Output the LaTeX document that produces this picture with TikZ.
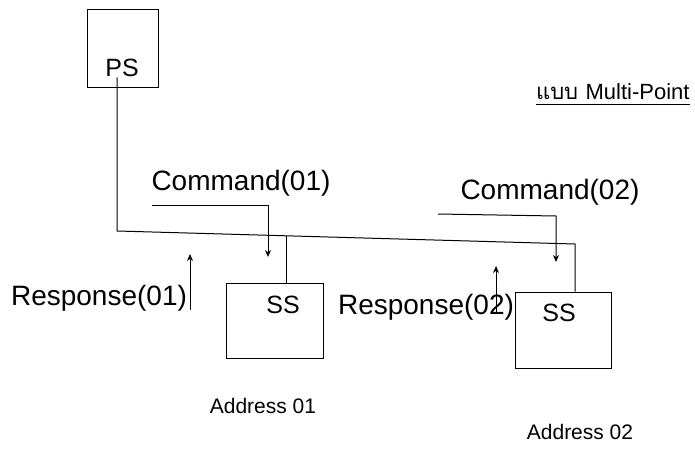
\documentclass[tikz,border=0pt]{standalone}
\usepackage{fontspec}
\setmainfont{Liberation Sans}
\newfontfamily\thaifont[Script=Thai]{Loma}
\usepackage{tikz}
\usetikzlibrary{arrows.meta}

\begin{document}
\begin{tikzpicture}
  [x=1pt,y=-1pt,line width=1pt,
   station/.style={draw,rectangle,inner sep=0pt},
   lbl/.style={inner sep=0pt,font=\fontsize{28}{30}\selectfont},
   small/.style={inner sep=0pt,font=\fontsize{21}{24}\selectfont},
   sig/.style={-{Stealth[length=7pt,width=6pt]}}]
  \useasboundingbox (0,0) rectangle (695,449);

  % stations
  \node[station,minimum width=71pt,minimum height=78pt] (ps) at (122.5,49) {};
  \node[station,minimum width=97pt,minimum height=75pt] (ss1) at (274.5,320.5) {};
  \node[station,minimum width=96pt,minimum height=76pt] (ss2) at (563,330) {};
  \node[lbl,font=\fontsize{25}{28}\selectfont] (pstext) at (122,68) {PS};
  \node[lbl,font=\fontsize{25}{28}\selectfont] (ss1text) at (283,305) {SS};
  \node[lbl,font=\fontsize{25}{28}\selectfont] (ss2text) at (559,313) {SS};

  % labels
  \node[lbl] (cmd1) at (241,183) {Command(01)};
  \node[lbl] (cmd2) at (550,192) {Command(02)};
  \node[lbl] (resp1) at (99,298) {Response(01)};
  \node[lbl] (resp2) at (426,307) {Response(02)};
  \node[small] (addr1) at (263,406) {Address 01};
  \node[small] (addr2) at (580,432) {Address 02};
  \node[small,font=\fontsize{22}{24}\selectfont,anchor=east] (mode) at (690,92) {\thaifont แบบ\ \rmfamily Multi-Point};
  \draw[line width=.8pt] ([yshift=-4pt]mode.south west) -- ([yshift=-4pt]mode.south east);

  % bus
  \coordinate (busL) at (117,231);
  \coordinate (busR) at (575,244);
  \coordinate (tap1) at (286,236);
  \draw (pstext.south -| busL) -- (busL) -- (busR) -- (busR |- ss2.north);
  \draw (tap1) -- (tap1 |- ss1.north);

  % command and response signals
  \coordinate (c1a) at (152,205);
  \coordinate (c1b) at (268,205);
  \coordinate (c1c) at (268,257);
  \coordinate (c2a) at (438,214);
  \coordinate (c2b) at (556,216);
  \coordinate (c2c) at (556,262);
  \coordinate (r1a) at (190,310);
  \coordinate (r1b) at (190,254);
  \coordinate (r2a) at (496,313);
  \coordinate (r2b) at (496,266);
  \draw[sig] (c1a) -- (c1b) -- (c1c);
  \draw[sig] (c2a) -- (c2b) -- (c2c);
  \draw[sig] (r1a) -- (r1b);
  \draw[sig] (r2a) -- (r2b);

\end{tikzpicture}
\end{document}
